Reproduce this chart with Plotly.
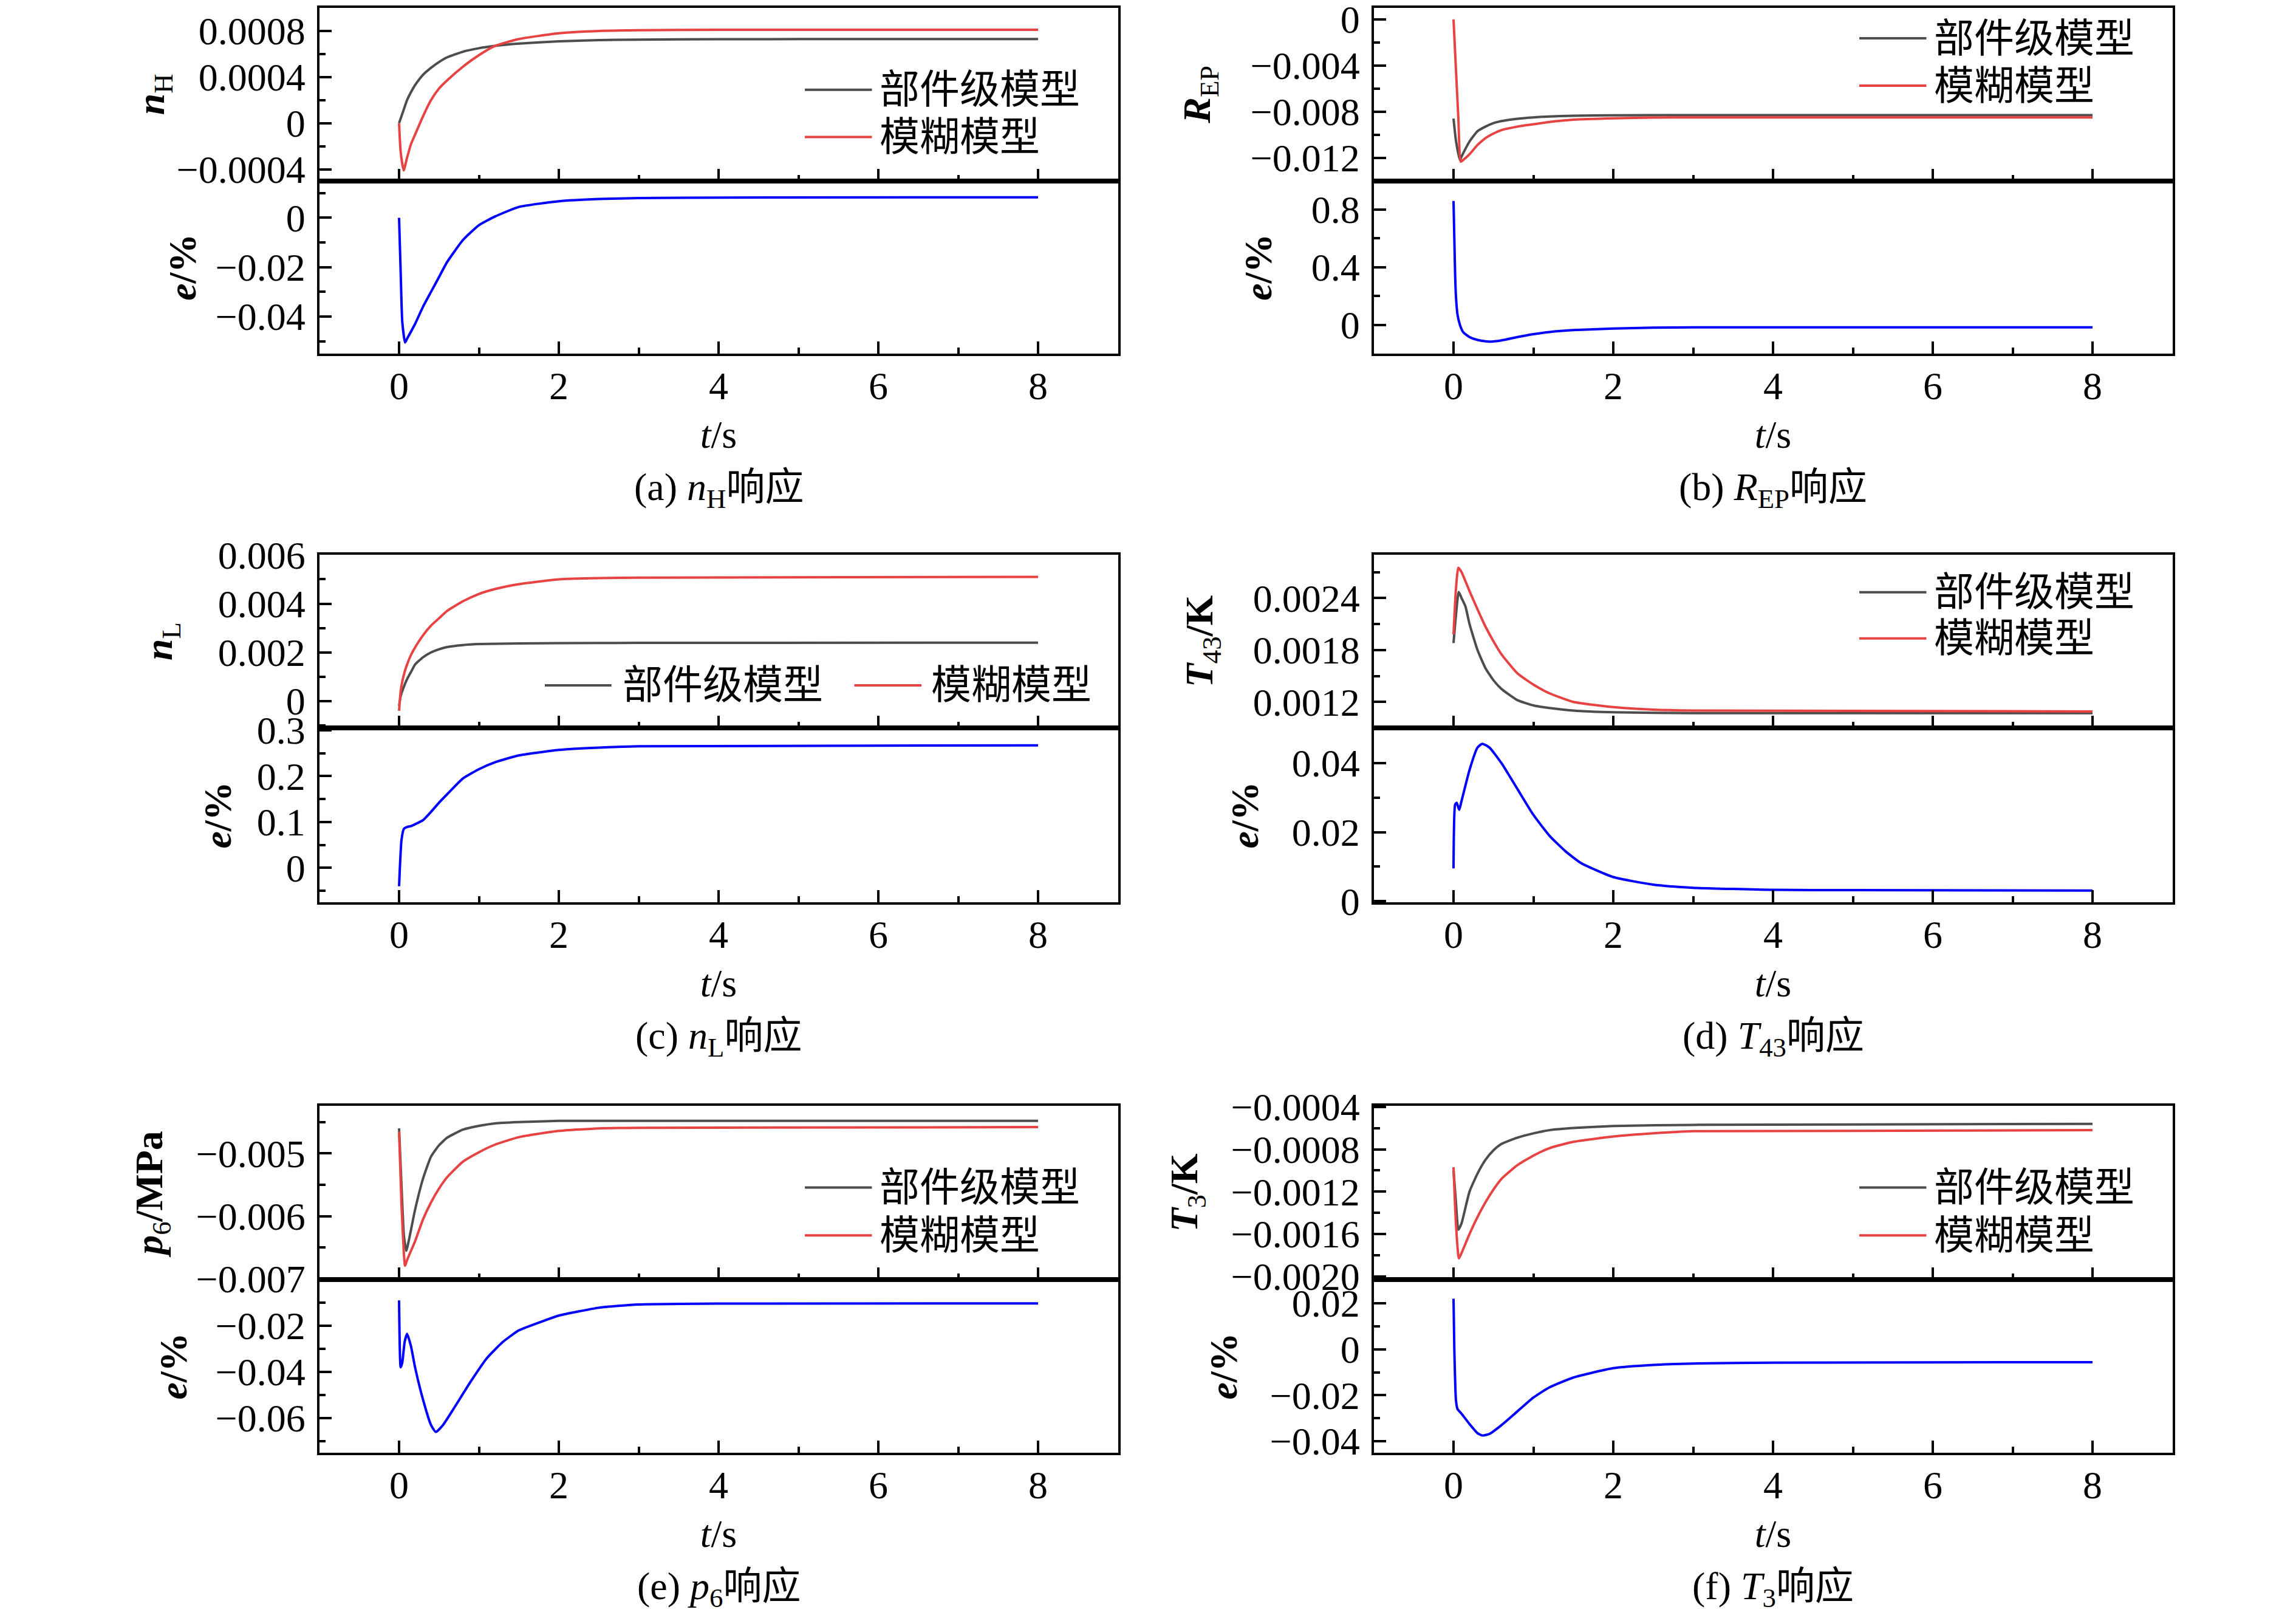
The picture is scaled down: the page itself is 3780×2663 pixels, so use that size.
import plotly.graph_objects as go

# ---------------- data (t in s) ----------------
# (a) n_H
t_a_part = [0, 0.05, 0.1, 0.15, 0.2, 0.3, 0.4, 0.5, 0.6, 0.8, 1.0, 1.2, 1.5, 2, 2.5, 3, 4, 6, 8]
nh_part = [0, 0.0001, 0.0002, 0.00027, 0.00033, 0.00042, 0.00048, 0.00053, 0.00057, 0.00062,
           0.00065, 0.00067, 0.00069, 0.00071, 0.00072, 0.000725, 0.000728, 0.00073, 0.00073]
t_a_fuzzy = [0, 0.02, 0.058, 0.1, 0.15, 0.2, 0.3, 0.4, 0.5, 0.6, 0.8, 1.0, 1.2, 1.5, 2, 2.5, 3, 4, 8]
nh_fuzzy = [0, -0.00025, -0.00041, -0.0003, -0.00018, -0.0001, 0.00006, 0.0002, 0.0003, 0.00037,
            0.00049, 0.00059, 0.00067, 0.00073, 0.00078, 0.0008, 0.000806, 0.00081, 0.00081]
t_a_err = [0, 0.02, 0.04, 0.075, 0.1, 0.2, 0.3, 0.4, 0.5, 0.6, 0.8, 1.0, 1.2, 1.5, 2, 2.5, 3, 4, 8]
err_a = [0, -0.022, -0.042, -0.0505, -0.049, -0.043, -0.036, -0.030, -0.024, -0.018, -0.009,
         -0.003, 0.0005, 0.0044, 0.0067, 0.0076, 0.008, 0.0082, 0.0083]

# (b) R_EP
t_b_part = [0, 0.03, 0.08, 0.1, 0.2, 0.3, 0.4, 0.5, 0.6, 0.8, 1.0, 1.2, 1.5, 2, 3, 8]
rep_part = [-0.0086, -0.0105, -0.0122, -0.0119, -0.0106, -0.0097, -0.0093, -0.0090, -0.00882,
            -0.00862, -0.0085, -0.00842, -0.00836, -0.00832, -0.0083, -0.0083]
t_b_fuzzy = [0, 0.03, 0.06, 0.09, 0.12, 0.2, 0.3, 0.4, 0.5, 0.6, 0.8, 1.0, 1.2, 1.5, 2, 2.5, 3, 8]
rep_fuzzy = [0, -0.0043, -0.0085, -0.01234, -0.0122, -0.0117, -0.0109, -0.0103, -0.0099, -0.0096,
             -0.0093, -0.0091, -0.0089, -0.0087, -0.00858, -0.00852, -0.0085, -0.0085]
t_b_err = [0, 0.01, 0.02, 0.03, 0.05, 0.08, 0.12, 0.2, 0.3, 0.45, 0.6, 0.8, 1.0, 1.2, 1.5, 2, 2.5, 3, 8]
err_b = [0.86, 0.6, 0.35, 0.2, 0.07, 0.0, -0.05, -0.085, -0.105, -0.117, -0.108, -0.085, -0.065,
         -0.05, -0.037, -0.026, -0.02, -0.018, -0.018]

# (c) n_L
t_c_part = [0, 0.02, 0.05, 0.1, 0.15, 0.2, 0.3, 0.4, 0.5, 0.6, 0.8, 1.0, 1.5, 2, 3, 8]
nl_part = [-0.0002, 0.0002, 0.0005, 0.0009, 0.0012, 0.0015, 0.0018, 0.002, 0.00213, 0.00222,
           0.0023, 0.00234, 0.00237, 0.00238, 0.00239, 0.0024]
t_c_fuzzy = [0, 0.02, 0.04, 0.07, 0.1, 0.15, 0.2, 0.3, 0.4, 0.5, 0.6, 0.8, 1.0, 1.2, 1.5, 2, 2.5, 3, 8]
nl_fuzzy = [-0.0004, 0.0004, 0.0008, 0.0012, 0.0015, 0.0019, 0.0022, 0.0027, 0.0031, 0.0034,
            0.0037, 0.0041, 0.0044, 0.0046, 0.0048, 0.005, 0.00505, 0.00507, 0.0051]
t_c_err = [0, 0.01, 0.03, 0.06, 0.1, 0.15, 0.2, 0.3, 0.4, 0.5, 0.6, 0.8, 1.0, 1.2, 1.5, 2, 2.5, 3, 8]
err_c = [-0.04, 0.0, 0.06, 0.085, 0.089, 0.091, 0.095, 0.104, 0.122, 0.142, 0.16, 0.195, 0.215,
         0.23, 0.245, 0.257, 0.262, 0.265, 0.267]

# (d) T_43
t_d_part = [0, 0.03, 0.065, 0.1, 0.15, 0.2, 0.3, 0.4, 0.5, 0.6, 0.8, 1.0, 1.2, 1.5, 2, 3, 8]
t43_part = [0.00188, 0.0022, 0.00247, 0.0024, 0.0023, 0.0021, 0.0018, 0.00159, 0.00145, 0.00135,
            0.00122, 0.00116, 0.00113, 0.0011, 0.00108, 0.00107, 0.00107]
t_d_fuzzy = [0, 0.03, 0.06, 0.1, 0.2, 0.3, 0.4, 0.5, 0.6, 0.8, 1.0, 1.2, 1.5, 2, 2.5, 3, 8]
t43_fuzzy = [0.00198, 0.0025, 0.00275, 0.0027, 0.00248, 0.00227, 0.00207, 0.0019, 0.00175, 0.00153,
             0.0014, 0.0013, 0.0012, 0.00114, 0.00111, 0.0011, 0.00109]
t_d_err = [0, 0.02, 0.04, 0.07, 0.1, 0.2, 0.3, 0.36, 0.45, 0.6, 0.8, 1.0, 1.2, 1.4, 1.6, 2, 2.5, 3, 4, 5, 8]
err_d = [0.0095, 0.028, 0.0285, 0.0265, 0.029, 0.038, 0.0445, 0.0456, 0.0445, 0.04, 0.0325, 0.025,
         0.019, 0.0145, 0.011, 0.007, 0.0048, 0.0039, 0.0033, 0.0032, 0.0031]

# (e) p_6
t_e_part = [0, 0.03, 0.06, 0.09, 0.12, 0.2, 0.3, 0.4, 0.5, 0.6, 0.8, 1.0, 1.2, 1.5, 2, 3, 8]
p6_part = [-0.0046, -0.0055, -0.0063, -0.00655, -0.0064, -0.0059, -0.0054, -0.00505, -0.00487,
           -0.00475, -0.00462, -0.00456, -0.00452, -0.0045, -0.00448, -0.00448, -0.00448]
t_e_fuzzy = [0, 0.03, 0.075, 0.1, 0.2, 0.3, 0.4, 0.5, 0.6, 0.8, 1.0, 1.2, 1.5, 2, 2.5, 3, 8]
p6_fuzzy = [-0.00465, -0.0058, -0.00679, -0.0067, -0.0064, -0.00605, -0.00578, -0.00556, -0.00538,
            -0.00513, -0.00498, -0.00486, -0.00474, -0.00464, -0.0046, -0.00459, -0.00458]
t_e_err = [0, 0.02, 0.04, 0.07, 0.1, 0.15, 0.2, 0.3, 0.4, 0.46, 0.55, 0.7, 0.9, 1.1, 1.3, 1.5, 1.8,
           2, 2.5, 3, 4, 8]
err_e = [-0.009, -0.038, -0.036, -0.027, -0.0235, -0.029, -0.038, -0.052, -0.063, -0.066, -0.063,
         -0.055, -0.044, -0.034, -0.027, -0.022, -0.018, -0.0156, -0.0122, -0.0108, -0.0104, -0.0103]

# (f) T_3
t_f_part = [0, 0.03, 0.06, 0.1, 0.2, 0.3, 0.4, 0.5, 0.6, 0.8, 1.0, 1.2, 1.5, 2, 3, 8]
t3_part = [-0.001, -0.0013, -0.00156, -0.0015, -0.0012, -0.00103, -0.0009, -0.00081, -0.00075,
           -0.00069, -0.00065, -0.00062, -0.0006, -0.00058, -0.00057, -0.00056]
t_f_fuzzy = [0, 0.03, 0.067, 0.1, 0.2, 0.3, 0.4, 0.5, 0.6, 0.8, 1.0, 1.2, 1.5, 2, 2.5, 3, 8]
t3_fuzzy = [-0.00097, -0.0015, -0.00183, -0.00178, -0.0016, -0.00144, -0.0013, -0.00118, -0.00108,
            -0.00095, -0.00086, -0.00079, -0.00073, -0.00068, -0.00065, -0.00063, -0.00062]
t_f_err = [0, 0.01, 0.03, 0.05, 0.1, 0.2, 0.3, 0.36, 0.45, 0.6, 0.8, 1.0, 1.2, 1.5, 2, 2.5, 3, 4, 8]
err_f = [0.022, 0.0, -0.022, -0.026, -0.028, -0.0325, -0.0365, -0.0375, -0.0368, -0.033, -0.027,
         -0.021, -0.0166, -0.0123, -0.0082, -0.0068, -0.0062, -0.0058, -0.0056]

# tick values / labels
x_ticks = [0, 2, 4, 6, 8]
ya_top_vals = [-0.0004, 0, 0.0004, 0.0008]
ya_top_text = ["−0.0004", "0", "0.0004", "0.0008"]
ya_bot_vals = [-0.04, -0.02, 0]
ya_bot_text = ["−0.04", "−0.02", "0"]
yb_top_vals = [-0.012, -0.008, -0.004, 0]
yb_top_text = ["−0.012", "−0.008", "−0.004", "0"]
yb_bot_vals = [0, 0.4, 0.8]
yb_bot_text = ["0", "0.4", "0.8"]
yc_top_vals = [0, 0.002, 0.004, 0.006]
yc_top_text = ["0", "0.002", "0.004", "0.006"]
yc_bot_vals = [0, 0.1, 0.2, 0.3]
yc_bot_text = ["0", "0.1", "0.2", "0.3"]
yd_top_vals = [0.0012, 0.0018, 0.0024]
yd_top_text = ["0.0012", "0.0018", "0.0024"]
yd_bot_vals = [0, 0.02, 0.04]
yd_bot_text = ["0", "0.02", "0.04"]
ye_top_vals = [-0.007, -0.006, -0.005]
ye_top_text = ["−0.007", "−0.006", "−0.005"]
ye_bot_vals = [-0.06, -0.04, -0.02]
ye_bot_text = ["−0.06", "−0.04", "−0.02"]
yf_top_vals = [-0.002, -0.0016, -0.0012, -0.0008, -0.0004]
yf_top_text = ["−0.0020", "−0.0016", "−0.0012", "−0.0008", "−0.0004"]
yf_bot_vals = [-0.04, -0.02, 0, 0.02]
yf_bot_text = ["−0.04", "−0.02", "0", "0.02"]

names = ["部件级模型", "模糊模型"]

# ---------------- styling ----------------
FONT = "Liberation Serif, Times New Roman, Noto Sans CJK SC, serif"
FS = 64
GRAY = "#4d4d4d"
RED = "#e84343"
BLUE = "#0000ff"
W, H = 3780, 2663
OFF = 8  # page body margin of the html output

COLS = [(525.5, 1840.5), (2261.5, 3576.5)]
ROWS = [(13, 297.5, 582), (913, 1198, 1485), (1820, 2106, 2391)]

panels = [
    dict(part=(t_a_part, nh_part), fuzzy=(t_a_fuzzy, nh_fuzzy), err=(t_a_err, err_a),
         top=([-0.0005, 0.001], ya_top_vals, ya_top_text, 0.0002),
         bot=([-0.055, 0.015], ya_bot_vals, ya_bot_text, 0.01),
         ytitle="<b><i>n</i></b><sub>H</sub>", caption="(a) <i>n</i><sub>H</sub>响应",
         standoff=(0, 12), legend="v", leg_y=(0.526, 0.253)),
    dict(part=(t_b_part, rep_part), fuzzy=(t_b_fuzzy, rep_fuzzy), err=(t_b_err, err_b),
         top=([-0.014, 0.001], yb_top_vals, yb_top_text, 0.002),
         bot=([-0.2, 1.0], yb_bot_vals, yb_bot_text, 0.2),
         ytitle="<b><i>R</i></b><sub>EP</sub>", caption="(b) <i>R</i><sub>EP</sub>响应",
         standoff=(46, 45), legend="v", leg_y=(0.824, 0.55)),
    dict(part=(t_c_part, nl_part), fuzzy=(t_c_fuzzy, nl_fuzzy), err=(t_c_err, err_c),
         top=([-0.0011, 0.00601], yc_top_vals, yc_top_text, 0.001),
         bot=([-0.075, 0.305], yc_bot_vals, yc_bot_text, 0.05),
         ytitle="<b><i>n</i></b><sub>L</sub>", caption="(c) <i>n</i><sub>L</sub>响应",
         standoff=(55, 22), legend="h", leg_y=(0.246, 0.246)),
    dict(part=(t_d_part, t43_part), fuzzy=(t_d_fuzzy, t43_fuzzy), err=(t_d_err, err_d),
         top=([0.0009, 0.0029], yd_top_vals, yd_top_text, 0.0003),
         bot=([-0.0003, 0.0502], yd_bot_vals, yd_bot_text, 0.01),
         ytitle="<b><i>T</i></b><sub>43</sub><b>/K</b>", caption="(d) <i>T</i><sub>43</sub>响应",
         standoff=(46, 35), legend="v", leg_y=(0.783, 0.517)),
    dict(part=(t_e_part, p6_part), fuzzy=(t_e_fuzzy, p6_fuzzy), err=(t_e_err, err_e),
         top=([-0.00701, -0.00424], ye_top_vals, ye_top_text, 0.0005),
         bot=([-0.075, 0.0], ye_bot_vals, ye_bot_text, 0.01),
         ytitle="<b><i>p</i></b><sub>6</sub><b>/MPa</b>", caption="(e) <i>p</i><sub>6</sub>响应",
         standoff=(35, 27), legend="v", leg_y=(0.53, 0.254)),
    dict(part=(t_f_part, t3_part), fuzzy=(t_f_fuzzy, t3_fuzzy), err=(t_f_err, err_f),
         top=([-0.00203, -0.00039], yf_top_vals, yf_top_text, 0.0002),
         bot=([-0.045, 0.0303], yf_bot_vals, yf_bot_text, 0.01),
         ytitle="<b><i>T</i></b><sub>3</sub><b>/K</b>", caption="(f) <i>T</i><sub>3</sub>响应",
         standoff=(35, 34), legend="v", leg_y=(0.53, 0.254)),
]

fig = go.Figure()
layout = dict(template="none", width=W, height=H, margin=dict(l=0, r=0, t=0, b=0, pad=0),
              paper_bgcolor="white", plot_bgcolor="white", showlegend=False,
              font=dict(family=FONT, size=FS, color="black"))
shapes, annotations = [], []


def xaxis(dom, anchor, labels):
    ax = dict(domain=dom, anchor=anchor, range=[-1, 9], tickmode="array", tickvals=x_ticks,
              ticks="inside", ticklen=20, tickwidth=3.5, tickcolor="black",
              showline=True, linewidth=4, linecolor="black", mirror=True,
              showgrid=False, zeroline=False, showticklabels=labels, automargin=False,
              ticklabeloverflow="allow", tickfont=dict(family=FONT, size=FS),
              minor=dict(tickmode="linear", tick0=0, dtick=1, ticks="inside", ticklen=10,
                         tickwidth=3.5, tickcolor="black", showgrid=False))
    if labels:
        ax["ticklabelstandoff"] = -6
        ax["title"] = dict(text="<i>t</i>/s", font=dict(family=FONT, size=FS), standoff=23)
    return ax


def yaxis(dom, anchor, cfg, title, standoff):
    rng, vals, text, mdt = cfg
    return dict(domain=dom, anchor=anchor, range=rng, tickmode="array", tickvals=vals, ticktext=text,
                ticks="inside", ticklen=20, tickwidth=3.5, tickcolor="black",
                showline=True, linewidth=4, linecolor="black", mirror=True,
                showgrid=False, zeroline=False, ticklabelstandoff=6, automargin=False,
                ticklabeloverflow="allow", tickfont=dict(family=FONT, size=FS),
                title=dict(text=title, font=dict(family=FONT, size=FS), standoff=standoff),
                minor=dict(tickmode="linear", tick0=0, dtick=mdt, ticks="inside", ticklen=10,
                           tickwidth=3.5, tickcolor="black", showgrid=False))


for k, p in enumerate(panels):
    r, c = divmod(k, 2)
    x0, x1 = COLS[c]
    ytop, ymid, ybot = ROWS[r]
    xd = [(x0 - OFF) / W, (x1 - OFF) / W]
    top_dom = [1 - (ymid - OFF) / H, 1 - (ytop - OFF) / H]
    bot_dom = [1 - (ybot - OFF) / H, 1 - (ymid - OFF) / H]
    nt, nb = 2 * k + 1, 2 * k + 2
    st, sb = ("" if nt == 1 else str(nt)), str(nb)

    layout["xaxis" + st] = xaxis(xd, "y" + st, False)
    layout["yaxis" + st] = yaxis(top_dom, "x" + st, p["top"], p["ytitle"], p["standoff"][0])
    layout["xaxis" + sb] = xaxis(xd, "y" + sb, True)
    layout["yaxis" + sb] = yaxis(bot_dom, "x" + sb, p["bot"], "<b><i>e</i>/%</b>", p["standoff"][1])

    for (tt, yy), col, nm in ((p["part"], GRAY, names[0]), (p["fuzzy"], RED, names[1])):
        fig.add_trace(go.Scatter(x=tt, y=yy, mode="lines", name=nm,
                                 line=dict(color=col, width=4, shape="spline", smoothing=0.5),
                                 xaxis="x" + st, yaxis="y" + st))
    fig.add_trace(go.Scatter(x=p["err"][0], y=p["err"][1], mode="lines", name="e",
                             line=dict(color=BLUE, width=4, shape="spline", smoothing=0.5),
                             xaxis="x" + sb, yaxis="y" + sb))

    # legend (line sample + text) inside top subplot
    xr, yr = "x" + st + " domain", "y" + st + " domain"
    if p["legend"] == "v":
        entries = [(0.608, 0.692, 0.700, p["leg_y"][0], GRAY, names[0]),
                   (0.608, 0.692, 0.700, p["leg_y"][1], RED, names[1])]
    else:
        entries = [(0.2825, 0.366, 0.378, p["leg_y"][0], GRAY, names[0]),
                   (0.670, 0.754, 0.7646, p["leg_y"][1], RED, names[1])]
    for lx0, lx1, tx, ly, col, nm in entries:
        shapes.append(dict(type="line", xref=xr, yref=yr, x0=lx0, x1=lx1, y0=ly, y1=ly,
                           line=dict(color=col, width=4)))
        annotations.append(dict(text=nm, xref=xr, yref=yr, x=tx, y=ly, xanchor="left",
                                yanchor="middle", showarrow=False,
                                font=dict(family=FONT, size=66, color="black")))

    # caption under panel
    annotations.append(dict(text=p["caption"], xref="x" + sb + " domain", yref="y" + sb + " domain",
                            x=0.5, y=-224 / (ybot - ymid), xanchor="center", yanchor="middle",
                            showarrow=False, font=dict(family=FONT, size=FS, color="black")))

layout["shapes"] = shapes
layout["annotations"] = annotations
fig.update_layout(**layout)

fig.write_html("out.html")
